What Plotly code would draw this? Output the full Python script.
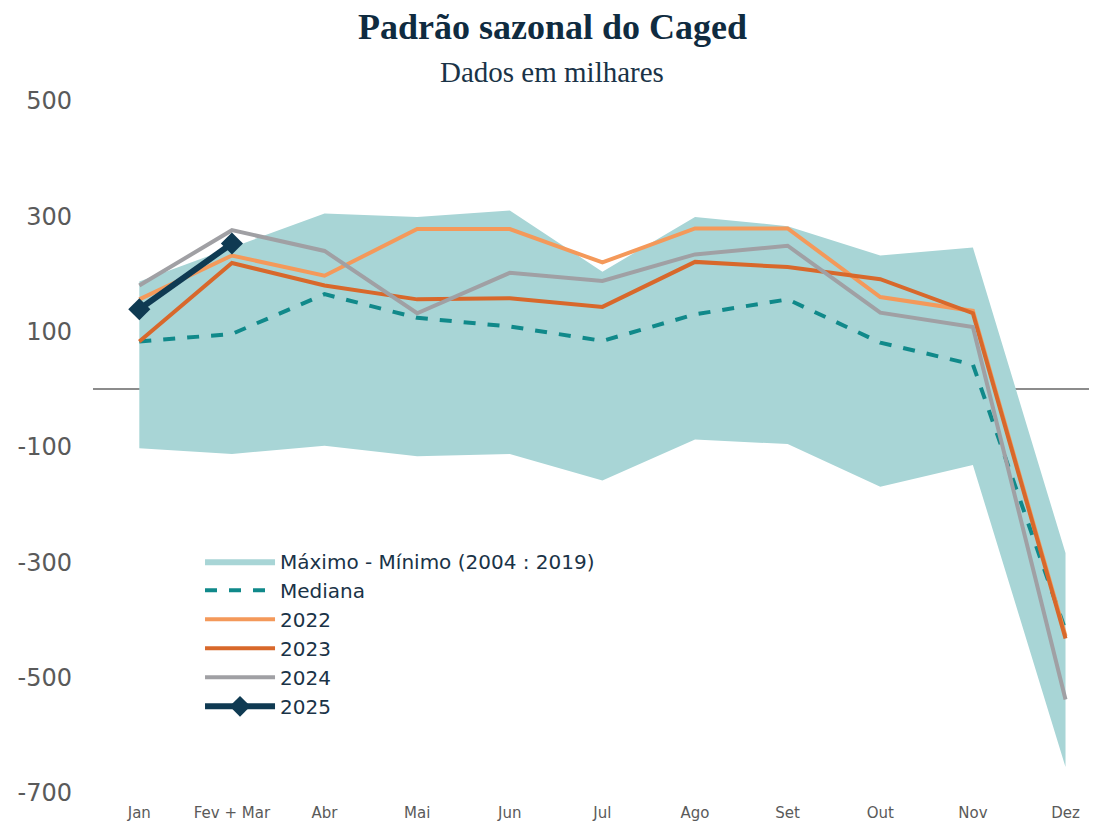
import plotly.graph_objects as go

meses = ['Jan', 'Fev + Mar', 'Abr', 'Mai', 'Jun', 'Jul', 'Ago', 'Set', 'Out', 'Nov', 'Dez']

maximo = [187, 246, 305, 299, 310, 204, 299, 283, 232, 246, -284]
minimo = [-102, -112, -98, -116, -112, -158, -87, -95, -169, -131, -655]
mediana = [83, 96, 165, 124, 109, 84, 130, 156, 81, 43, -418]
a2022 = [156, 232, 197, 278, 278, 220, 279, 279, 160, 136, -428]
a2023 = [83, 219, 180, 156, 158, 143, 221, 212, 191, 132, -432]
a2024 = [180, 276, 240, 132, 202, 188, 234, 249, 133, 108, -538]
a2025 = [139, 253]

y_ticks = [-700, -500, -300, -100, 100, 300, 500]
y_labels = ['-700', '-500', '-300', '-100', '100', '300', '500']

fig = go.Figure()

# faixa max - min
fig.add_trace(go.Scatter(x=meses, y=minimo, mode='lines', line=dict(width=0, color='#a8d5d6'),
                         showlegend=False, hoverinfo='skip'))
fig.add_trace(go.Scatter(x=meses, y=maximo, mode='lines', line=dict(width=0, color='#a8d5d6'),
                         fill='tonexty', fillcolor='#a8d5d6', name='Máximo - Mínimo (2004 : 2019)'))

fig.add_trace(go.Scatter(x=meses, y=mediana, mode='lines', name='Mediana',
                         line=dict(color='#10898a', width=4, dash='dash')))
fig.add_trace(go.Scatter(x=meses, y=a2022, mode='lines', name='2022',
                         line=dict(color='#f4995a', width=4)))
fig.add_trace(go.Scatter(x=meses, y=a2023, mode='lines', name='2023',
                         line=dict(color='#d8682b', width=4)))
fig.add_trace(go.Scatter(x=meses, y=a2024, mode='lines', name='2024',
                         line=dict(color='#a0a0a4', width=4)))
fig.add_trace(go.Scatter(x=meses[:2], y=a2025, mode='lines+markers', name='2025',
                         line=dict(color='#0f3a52', width=6),
                         marker=dict(symbol='diamond', size=17, color='#0f3a52')))

# a página tem margem de 8px no body, então a figura é um pouco menor
fig.update_layout(
    width=1089, height=814,
    margin=dict(l=85, r=0, t=93, b=29),
    plot_bgcolor='white', paper_bgcolor='white',
    title=dict(
        text='<b>Padrão sazonal do Caged</b>',
        x=0.5, xref='container', xanchor='center', y=0.993, yref='container', yanchor='top',
        font=dict(family='Liberation Serif', size=36, color='#0f2b40'),
    ),
    legend=dict(x=0.1066, y=0.363, xanchor='left', yanchor='top', bgcolor='rgba(0,0,0,0)',
                traceorder='normal', itemwidth=70,
                font=dict(family='DejaVu Sans', size=20, color='#1a3347'), tracegroupgap=0),
    xaxis=dict(range=[-0.5, 10.34], showgrid=False, showline=False, ticks='',
               ticklabelstandoff=9,
               tickfont=dict(family='DejaVu Sans', size=15, color='#5a5a5a')),
    yaxis=dict(range=[-700, 500], tickvals=y_ticks, ticktext=y_labels, showgrid=False,
               zeroline=True, zerolinecolor='#8c8c8c', zerolinewidth=2, showline=False, ticks='',
               ticklabelstandoff=20,
               tickfont=dict(family='DejaVu Sans', size=24, color='#5a5a5a')),
)

fig.add_annotation(text='Dados em milhares', xref='paper', yref='paper', x=0.457, y=1.0, yshift=29,
                   yanchor='middle', showarrow=False,
                   font=dict(family='Liberation Serif', size=29, color='#1a3347'))

fig.write_html('out.html')
